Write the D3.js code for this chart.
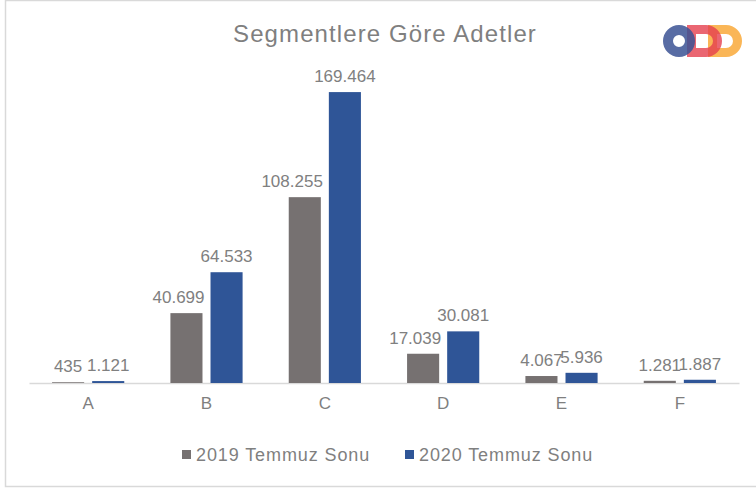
<!DOCTYPE html>
<html>
<head>
<meta charset="utf-8">
<script src="https://cdn.jsdelivr.net/npm/d3@7"></script>
<style>
  body { margin: 0; background: #fff; }
  svg { display: block; font-family: "Liberation Sans", Arial, sans-serif; }
</style>
</head>
<body>
<script>
// data
const categories = ["A", "B", "C", "D", "E", "F"];
const seriesNames = ["2019 Temmuz Sonu", "2020 Temmuz Sonu"];
const values2019 = [435, 40699, 108255, 17039, 4067, 1281];
const values2020 = [1121, 64533, 169464, 30081, 5936, 1887];
const title = "Segmentlere Göre Adetler";

const colors = ["#767171", "#2F5597"];
const width = 756, height = 491;

const svg = d3.select("body").append("svg")
  .attr("width", width)
  .attr("height", height);

// frame
svg.append("rect")
  .attr("x", 5.5).attr("y", 0.5)
  .attr("width", 770).attr("height", 486)
  .attr("fill", "#fff")
  .attr("stroke", "#d9d9d9")
  .attr("stroke-width", 1.5);

// scales
const x0 = d3.scaleBand()
  .domain(categories)
  .range([29, 739])
  .paddingInner(0.39)
  .paddingOuter(0.195);

const x1 = d3.scaleBand()
  .domain([0, 1])
  .range([0, x0.bandwidth()])
  .paddingInner(0.2);

const y = d3.scaleLinear()
  .domain([0, 180000])
  .range([383, 74]);

const tr = d3.formatLocale({ decimal: ",", thousands: ".", grouping: [3], currency: ["", ""] });
const fmt = tr.format(",d");

// title
svg.append("text")
  .attr("x", 385).attr("y", 42)
  .attr("text-anchor", "middle")
  .attr("font-size", 24)
  .attr("letter-spacing", 1.1)
  .attr("fill", "#7f7f7f")
  .text(title);

// axis line + labels
const axis = svg.append("g").attr("transform", `translate(0,${y(0)})`)
  .call(d3.axisBottom(x0).tickSize(0).tickPadding(14));
axis.select(".domain").attr("stroke", "#d9d9d9").attr("stroke-width", 1.5);
axis.selectAll("text")
  .attr("font-size", 17)
  .attr("font-family", "Liberation Sans, Arial, sans-serif")
  .attr("fill", "#7f7f7f");

// bars
const rows = categories.map((c, i) => ({ cat: c, vals: [values2019[i], values2020[i]] }));

const groups = svg.append("g").selectAll("g")
  .data(rows).join("g")
  .attr("transform", d => `translate(${x0(d.cat)},0)`);

groups.selectAll("rect")
  .data(d => d.vals.map((v, k) => ({ v, k })))
  .join("rect")
  .attr("x", d => x1(d.k))
  .attr("y", d => y(d.v))
  .attr("width", x1.bandwidth())
  .attr("height", d => y(0) - y(d.v))
  .attr("fill", d => colors[d.k]);

// value labels
groups.each(function (d) {
  const g = d3.select(this);
  [1, 0].forEach(k => {
    const v = d.vals[k];
    const base = y(v) - 10;
    const t = g.append("text")
      .attr("x", x1(k) + x1.bandwidth() / 2)
      .attr("y", base)
      .attr("text-anchor", "middle")
      .attr("font-size", 17)
      .attr("fill", "#808080")
      .text(fmt(v));
    // push the 2019 label left when the 2020 bar rises beside it
    if (k === 0 && y(d.vals[1]) < base) {
      const w = t.node().getComputedTextLength();
      const right = x1(k) + x1.bandwidth() / 2 + w / 2;
      const limit = x1(1) - 6;
      if (right > limit) t.attr("x", x1(k) + x1.bandwidth() / 2 - (right - limit));
    }
  });
});

// legend
const legend = svg.append("g").attr("transform", "translate(182,455)");
const items = legend.selectAll("g").data(seriesNames).join("g")
  .attr("transform", (d, i) => `translate(${i * 223},0)`);
items.append("rect")
  .attr("x", 0).attr("y", -5)
  .attr("width", 9).attr("height", 9)
  .attr("fill", (d, i) => colors[i]);
items.append("text")
  .attr("x", 14).attr("y", 6)
  .attr("font-size", 18)
  .attr("letter-spacing", 0.9)
  .attr("fill", "#7f7f7f")
  .text(d => d);

// logo
const logo = svg.append("g").attr("transform", "translate(663,25)");
const dPath = (x, w, h, t) => {
  const r = h / 2, xs = x + w - r;
  const ri = r - t, xi = x + t, xsi = xs;
  return `M${x},0 H${xs} A${r},${r} 0 0 1 ${xs},${h} H${x} Z` +
    `M${xi},${t} H${xsi} A${ri},${ri} 0 0 1 ${xsi},${h - t} H${xi} Z`;
};
logo.append("path")
  .attr("d", dPath(45, 34, 32, 9))
  .attr("fill-rule", "evenodd")
  .attr("fill", "#F9A93A").attr("opacity", 0.85);
logo.append("path")
  .attr("d", dPath(24, 35, 32, 9))
  .attr("fill-rule", "evenodd")
  .attr("fill", "#E5404F").attr("opacity", 0.8);
logo.append("ellipse")
  .attr("cx", 16).attr("cy", 16).attr("rx", 11).attr("ry", 11)
  .attr("fill", "none")
  .attr("stroke", "#3B5294").attr("stroke-width", 10)
  .attr("opacity", 0.85);
</script>
</body>
</html>
